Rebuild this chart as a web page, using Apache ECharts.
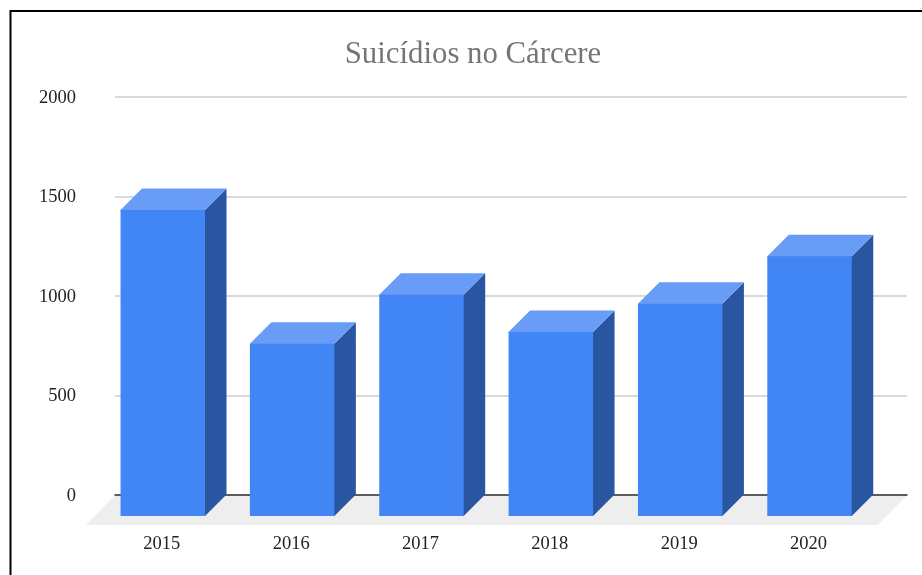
<!DOCTYPE html>
<html>
<head>
<meta charset="utf-8">
<style>
  html, body { margin: 0; padding: 0; background: #fff; }
  #chart { width: 922px; height: 575px; }
</style>
<script src="https://cdn.jsdelivr.net/npm/echarts@6/dist/echarts.min.js"></script>
</head>
<body>
<div id="chart"></div>
<script>
const years = ['2015', '2016', '2017', '2018', '2019', '2020'];
const suicides = [1538, 866, 1112, 925, 1067, 1305];
const yTicks = { min: 0, max: 2000, interval: 500 };

const FONT = '"Liberation Serif", serif';
const DEPTH = 21.5;      // oblique offset of a bar's back face
const FLOOR_DEPTH = 29;  // oblique offset of the floor's front edge

// Extruded bar: front face on the front grid, top and side pushed back by DEPTH.
function renderBar(params, api) {
  const top = api.coord([api.value(0), api.value(1)]);
  const base = api.coord([api.value(0), 0]);
  const half = api.size([1, 0])[0] * 0.653 / 2;
  const l = top[0] - half, r = top[0] + half, t = top[1], b = base[1];
  return {
    type: 'group',
    children: [
      // Side and top run slightly under the front face so no seam shows at the shared edge.
      { type: 'polygon', shape: { points: [[r - 1, t], [r, t], [r + DEPTH, t - DEPTH], [r + DEPTH, b - DEPTH], [r, b], [r - 1, b]] },
        style: { fill: '#2a56a1' } },
      { type: 'polygon', shape: { points: [[l, t + 1], [l, t], [l + DEPTH, t - DEPTH], [r + DEPTH, t - DEPTH], [r, t], [r, t + 1]] },
        style: { fill: '#689cf6' } },
      { type: 'rect', shape: { x: l, y: t, width: r - l, height: b - t },
        style: { fill: '#4285f4' } }
    ]
  };
}

// Grey floor receding from the zero line of the back grid.
function renderFloor(params, api) {
  const y = api.coord([0, 0])[1];
  const area = params.coordSys;
  const x0 = area.x, x1 = area.x + area.width;
  return {
    type: 'polygon',
    shape: { points: [[x0, y], [x1, y], [x1 - FLOOR_DEPTH, y + FLOOR_DEPTH + 1], [x0 - FLOOR_DEPTH, y + FLOOR_DEPTH + 1]] },
    style: { fill: '#eeeeee' }
  };
}

const chart = echarts.init(document.getElementById('chart'), null, { renderer: 'canvas' });
chart.setOption({
  animation: false,
  backgroundColor: '#ffffff',
  title: {
    text: 'Suicídios no Cárcere',
    left: 468,
    top: 34,
    textAlign: 'center',
    textStyle: { fontFamily: FONT, fontSize: 30.8, fontWeight: 'normal', color: '#757575' }
  },
  grid: [
    { left: 115, top: 97, width: 792, height: 398 },     // back plane: gridlines and zero line
    { left: 98.1, top: 118, width: 776.1, height: 398 }, // front plane: bars and year labels
    { left: 115, top: 98, width: 792, height: 398 }      // value labels, centred on the gridlines' optical middle
  ],
  xAxis: [
    {
      gridIndex: 0, type: 'category', data: years,
      axisLine: { show: true, lineStyle: { color: '#333333', width: 1.5 } },
      axisTick: { show: false }, axisLabel: { show: false }
    },
    {
      gridIndex: 1, type: 'category', data: years,
      axisLine: { show: false }, axisTick: { show: false },
      axisLabel: {
        margin: 19, fontFamily: FONT, fontSize: 18.5, color: '#222222',
        padding: [0, 2, 0, 0]
      }
    },
    { gridIndex: 2, type: 'category', data: years, show: false }
  ],
  yAxis: [
    {
      gridIndex: 0, type: 'value', min: yTicks.min, max: yTicks.max, interval: yTicks.interval,
      axisLine: { show: false }, axisTick: { show: false }, axisLabel: { show: false },
      splitLine: { lineStyle: { color: '#cccccc', width: 1.5 } }
    },
    {
      gridIndex: 1, type: 'value', min: yTicks.min, max: yTicks.max, interval: yTicks.interval,
      show: false, splitLine: { show: false }
    },
    {
      gridIndex: 2, type: 'value', min: yTicks.min, max: yTicks.max, interval: yTicks.interval,
      axisLine: { show: false }, axisTick: { show: false }, splitLine: { show: false },
      axisLabel: {
        margin: 39, fontFamily: FONT, fontSize: 18.5, color: '#222222',
        formatter: v => String(v)
      }
    }
  ],
  series: [
    {
      type: 'custom', xAxisIndex: 0, yAxisIndex: 0, z: -1, silent: true,
      renderItem: renderFloor, data: [[0, 0]], clip: false
    },
    {
      type: 'custom', xAxisIndex: 1, yAxisIndex: 1, z: 3,
      renderItem: renderBar, clip: false,
      encode: { x: 0, y: 1 },
      data: years.map((y, i) => [y, suicides[i]])
    }
  ],
  graphic: [
    { type: 'line', z: 100, shape: { x1: 10.5, y1: 11, x2: 922, y2: 11 }, style: { stroke: '#000', lineWidth: 2 } },
    { type: 'line', z: 100, shape: { x1: 10.5, y1: 10, x2: 10.5, y2: 575 }, style: { stroke: '#000', lineWidth: 2 } }
  ]
});
</script>
</body>
</html>
